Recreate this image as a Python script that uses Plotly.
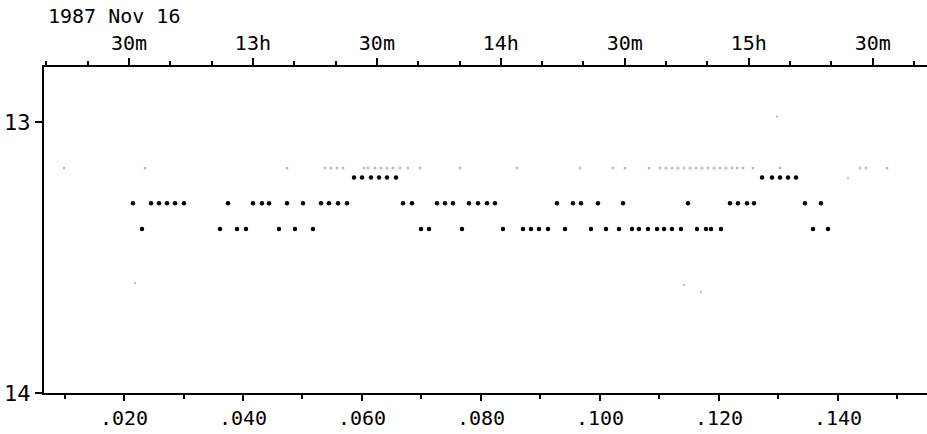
import plotly.graph_objects as go

# Fraction of day (JD - 2447116) on bottom axis; magnitude on y axis
row_a_x = [0.00992, 0.02353, 0.04740, 0.05378, 0.05479, 0.05580, 0.05681, 0.06034, 0.06101,
           0.06218, 0.06319, 0.06420, 0.06521, 0.06639, 0.06773, 0.06975, 0.07647, 0.08605,
           0.09664, 0.10218, 0.10420, 0.10824, 0.11008, 0.11109, 0.11210, 0.11311, 0.11412,
           0.11513, 0.11613, 0.11714, 0.11815, 0.11916, 0.12017, 0.12118, 0.12218, 0.12303,
           0.12403, 0.12571, 0.13025, 0.14370, 0.14471, 0.14824]
row_a_mag = 13.17

row_b_x = [0.05866, 0.06000, 0.06151, 0.06286, 0.06420, 0.06571,
           0.12723, 0.12891, 0.13025, 0.13160, 0.13294]
row_b_mag = 13.205

row_c_x = [0.02151, 0.02454, 0.02588, 0.02723, 0.02857, 0.03008, 0.03748, 0.04168, 0.04319,
           0.04437, 0.04740, 0.05008, 0.05311, 0.05445, 0.05597, 0.05748, 0.06689, 0.06840,
           0.07261, 0.07395, 0.07529, 0.07798, 0.07950, 0.08101, 0.08235, 0.09277, 0.09546,
           0.09681, 0.09966, 0.10387, 0.11479, 0.12185, 0.12319, 0.12471, 0.12588, 0.13445,
           0.13714]
row_c_mag = 13.30

row_d_x = [0.02303, 0.03613, 0.03899, 0.04050, 0.04605, 0.04874, 0.05176, 0.06992, 0.07126,
           0.07681, 0.08370, 0.08706, 0.08840, 0.08975, 0.09126, 0.09412, 0.09849, 0.10101,
           0.10319, 0.10538, 0.10655, 0.10807, 0.10958, 0.11076, 0.11210, 0.11361, 0.11630,
           0.11782, 0.11866, 0.12034, 0.13580, 0.13832]
row_d_mag = 13.395

specks_x = [0.02185, 0.11410, 0.11700, 0.14168, 0.12975]
specks_mag = [13.594, 13.601, 13.627, 13.207, 12.980]

x_range = [0.006555, 0.15496]
y_range = [14.0, 12.797]

top_tickvals = [0.020833, 0.041667, 0.0625, 0.083333, 0.104167, 0.125, 0.145833]
top_ticktext = ["30m", "13h", "30m", "14h", "30m", "15h", "30m"]
bottom_tickvals = [0.02, 0.04, 0.06, 0.08, 0.10, 0.12, 0.14]
bottom_ticktext = [".020", ".040", ".060", ".080", ".100", ".120", ".140"]
y_tickvals = [13, 14]
y_ticktext = ["13", "14"]

FONT = "DejaVu Sans Mono"

fig = go.Figure()
fig.add_trace(go.Scatter(x=row_a_x, y=[row_a_mag] * len(row_a_x), mode="markers",
                         marker=dict(symbol="square", size=2.5, color="#b8b8b8"),
                         hoverinfo="skip", showlegend=False))
fig.add_trace(go.Scatter(x=specks_x, y=specks_mag, mode="markers",
                         marker=dict(symbol="square", size=2, color="#c0c0c0"),
                         hoverinfo="skip", showlegend=False))
for xs, m in [(row_b_x, row_b_mag), (row_c_x, row_c_mag), (row_d_x, row_d_mag)]:
    fig.add_trace(go.Scatter(x=xs, y=[m] * len(xs), mode="markers",
                             marker=dict(symbol="circle", size=4.5, color="black", line=dict(width=0)),
                             hoverinfo="skip", showlegend=False))

# dummy trace for top axis
fig.add_trace(go.Scatter(x=[x_range[0]], y=[13.5], xaxis="x2", mode="markers",
                         marker=dict(opacity=0), hoverinfo="skip", showlegend=False))

fig.update_layout(
    width=927, height=434, autosize=False,
    margin=dict(l=44, r=0, t=67, b=41),
    paper_bgcolor="white", plot_bgcolor="white",
    font=dict(family=FONT, size=20, color="black"),
    xaxis=dict(range=x_range, showgrid=False, zeroline=False, showline=True,
               linecolor="black", linewidth=2, ticks="outside", ticklen=6, tickwidth=2,
               tickcolor="black", tickmode="array", tickvals=bottom_tickvals,
               ticktext=bottom_ticktext, tickfont=dict(family=FONT, size=20),
               minor=dict(dtick=0.01, tick0=0.0, ticks="outside", ticklen=4, tickwidth=2,
                          tickcolor="black", showgrid=False)),
    xaxis2=dict(range=x_range, overlaying="x", side="top", showgrid=False, zeroline=False,
                showline=True, linecolor="black", linewidth=2, ticks="outside", ticklen=7,
                tickwidth=2, tickcolor="black", tickmode="array", tickvals=top_tickvals,
                ticktext=top_ticktext, tickfont=dict(family=FONT, size=20),
                minor=dict(tick0=0.020833, dtick=0.0069444, ticks="outside", ticklen=4,
                           tickwidth=2, tickcolor="black", showgrid=False)),
    yaxis=dict(range=y_range, showgrid=False, zeroline=False, showline=True,
               linecolor="black", linewidth=2, ticks="outside", ticklen=7, tickwidth=2,
               tickcolor="black", tickmode="array", tickvals=y_tickvals,
               ticktext=y_ticktext, tickfont=dict(family=FONT, size=22)),
    annotations=[dict(text="1987 Nov 16", xref="paper", yref="paper", x=0, y=1.156,
                      xanchor="left", yanchor="middle", xshift=2, showarrow=False,
                      font=dict(family=FONT, size=20, color="black"))],
)

fig.write_html("out.html")
